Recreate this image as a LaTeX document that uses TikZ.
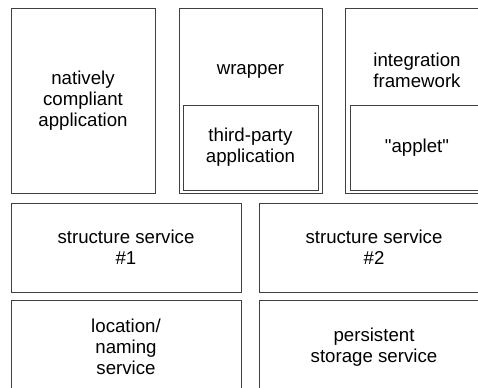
\documentclass[tikz,border=0pt]{standalone}
\usepackage{fontspec}
\setmainfont{Liberation Sans}
\usetikzlibrary{positioning}
\tikzset{
	blk/.style={draw=black!75, line width=0.75pt, inner sep=0pt, align=center,
		font=\fontsize{14}{15.6}\selectfont},
}
\begin{document}
\begin{tikzpicture}[x=0.75pt, y=-0.75pt]
	\clip (0,0) rectangle (478,387);
	% top row
	\node[blk, minimum width={144*0.75pt}, minimum height={185*0.75pt}] (natv) at (83,100.5) {natively\\compliant\\application};
	
	\node[blk, minimum width={143*0.75pt}, minimum height={185*0.75pt}] (wrap) at (250.5,100.5) {};
	\node[blk, minimum width={135*0.75pt}, minimum height={85*0.75pt}] (tpa) at (250.5,147.5) {third-party\\application};
	\node[font=\fontsize{14}{15.6}\selectfont] (wrapt) at (250.5,71) {wrapper};
	
	\node[blk, minimum width={144*0.75pt}, minimum height={185*0.75pt}] (intg) at (417,100.5) {};
	\node[blk, minimum width={134*0.75pt}, minimum height={85*0.75pt}] (aplt) at (417,147.5) {\textquotedbl applet\textquotedbl};
	\node[font=\fontsize{14}{15.6}\selectfont, align=center] (intgt) at (417,70) {integration\\framework};
	
	% services
	\node[blk, minimum width={230*0.75pt}, minimum height={89*0.75pt}] (ss1) at (126,247.5) {structure service\\\#1};
	\node[blk, minimum width={230*0.75pt}, minimum height={89*0.75pt}] (ss2) at (374,247.5) {structure service\\\#2};
	
	\node[blk, minimum width={230*0.75pt}, minimum height={94*0.75pt}] (loc) at (126,347) {location/\\naming\\service};
	\node[blk, minimum width={230*0.75pt}, minimum height={94*0.75pt}] (pss) at (374,347) {persistent\\storage service};
\end{tikzpicture}
\end{document}
